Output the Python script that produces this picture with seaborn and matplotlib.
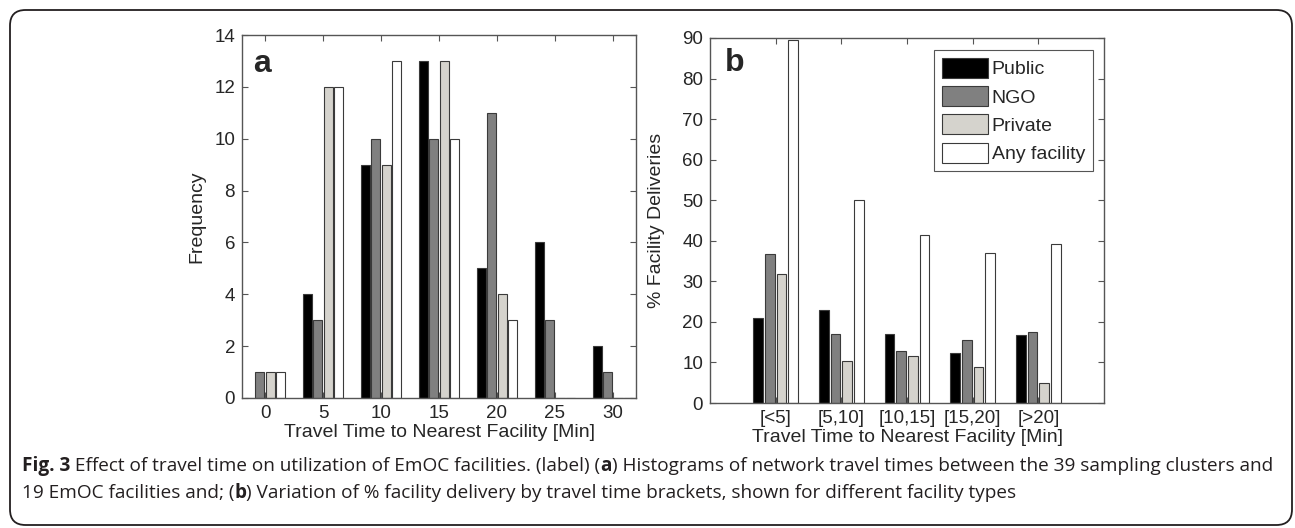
import pandas as pd
import matplotlib.pyplot as plt
import seaborn as sns
from matplotlib.patches import Patch, FancyBboxPatch

# panel a: histogram counts per travel-time bin
bins_a = [0, 5, 10, 15, 20, 25, 30]
public_a = [0, 4, 9, 13, 5, 6, 2]
ngo_a = [1, 3, 10, 10, 11, 3, 1]
private_a = [1, 12, 9, 13, 4, 0, 0]
any_a = [1, 12, 13, 10, 3, 0, 0]

# panel b: % facility deliveries per travel-time bracket
brackets = ["[<5]", "[5,10]", "[10,15]", "[15,20]", "[>20]"]
public_b = [21.0, 22.9, 16.9, 12.4, 16.8]
ngo_b = [36.8, 17.1, 12.9, 15.6, 17.6]
private_b = [31.7, 10.3, 11.7, 9.0, 5.0]
any_b = [89.5, 50.0, 41.4, 37.1, 39.3]

types = ["Public", "NGO", "Private", "Any facility"]
colors = ["#000000", "#808080", "#d5d3cd", "#ffffff"]
edge = "#3a3a3a"

df_a = pd.DataFrame({"time": bins_a, "Public": public_a, "NGO": ngo_a,
                     "Private": private_a, "Any facility": any_a})
df_a = df_a.melt(id_vars="time", var_name="type", value_name="count")
df_b = pd.DataFrame({"bracket": brackets, "Public": public_b, "NGO": ngo_b,
                     "Private": private_b, "Any facility": any_b})
df_b = df_b.melt(id_vars="bracket", var_name="type", value_name="pct")

sns.set_style("ticks")
plt.rcParams["font.family"] = ["Liberation Sans", "DejaVu Sans"]

W, H = 1295, 528
fig = plt.figure(figsize=(W / 100, H / 100), dpi=100)


def box(l, r, t, b):
    return [l / W, (H - b) / H, (r - l) / W, (b - t) / H]


ax_a = fig.add_axes(box(242, 636, 35, 398))
ax_b = fig.add_axes(box(710, 1104, 38, 403))

sns.barplot(data=df_a, x="time", y="count", hue="type", hue_order=types,
            palette=colors, native_scale=True, width=0.724, gap=0.14,
            errorbar=None, saturation=1, edgecolor=edge, linewidth=0.8,
            legend=False, ax=ax_a)
sns.barplot(data=df_b, x="bracket", y="pct", hue="type", hue_order=types,
            order=brackets, palette=colors, width=0.71, gap=0.15,
            errorbar=None, saturation=1, edgecolor=edge, linewidth=0.8,
            legend=False, ax=ax_b)

ax_a.set_xlim(-2, 32)
ax_a.set_ylim(0, 14)
ax_a.set_xticks(bins_a)
ax_a.set_yticks(range(0, 15, 2))
ax_a.set_ylabel("Frequency", fontsize=14)
ax_a.yaxis.set_label_coords(-0.094, 0.5)

ax_b.set_xlim(-1, 5)
ax_b.set_ylim(0, 90)
ax_b.set_yticks(range(0, 91, 10))
ax_b.set_ylabel("% Facility Deliveries", fontsize=14)
ax_b.yaxis.set_label_coords(-0.114, 0.5)

for ax in (ax_a, ax_b):
    ax.set_xlabel("Travel Time to Nearest Facility [Min]", fontsize=14)
    ax.xaxis.set_label_coords(0.5, -0.072)
    ax.tick_params(direction="in", top=True, right=True, length=4,
                   width=0.8, color="#555555", labelsize=13.5, pad=5)
    for s in ax.spines.values():
        s.set_visible(True)
        s.set_color("#555555")
        s.set_linewidth(1.0)

ax_a.text(0.028, 0.898, "a", transform=ax_a.transAxes, fontsize=23,
          fontweight="bold", va="baseline")
ax_b.text(0.038, 0.91, "b", transform=ax_b.transAxes, fontsize=23,
          fontweight="bold", va="baseline")

handles = [Patch(facecolor=c, edgecolor=edge, linewidth=0.8) for c in colors]
leg = ax_b.legend(handles, types, loc="upper right",
                  bbox_to_anchor=(0.972, 0.967), borderaxespad=0,
                  fontsize=14, handlelength=2.35, handleheight=1.2,
                  handletextpad=0.2, labelspacing=0.4, borderpad=0.4,
                  fancybox=False, framealpha=1)
leg.get_frame().set_edgecolor("#555555")
leg.get_frame().set_linewidth(0.8)

# rounded frame around the whole figure
frame = FancyBboxPatch((10 / W, 3 / H), 1282 / W, 515 / H,
                       boxstyle="round,pad=0,rounding_size=0.012",
                       transform=fig.transFigure, fill=False,
                       edgecolor="#231f20", linewidth=1.3,
                       mutation_aspect=W / H)
fig.patches.append(frame)

# caption with bold pieces
cap_lines = [
    [("Fig. 3", "bold"),
     (" Effect of travel time on utilization of EmOC facilities. (label) (", "normal"),
     ("a", "bold"),
     (") Histograms of network travel times between the 39 sampling clusters and", "normal")],
    [("19 EmOC facilities and; (", "normal"), ("b", "bold"),
     (") Variation of % facility delivery by travel time brackets, shown for different facility types", "normal")],
]
cap_y = [471, 498]
renderer = fig.canvas.get_renderer()
for line, yb in zip(cap_lines, cap_y):
    x = 22
    for txt, wt in line:
        t = fig.text(x / W, (H - yb) / H, txt, fontsize=13.7, fontweight=wt,
                     family=["Open Sans", "DejaVu Sans"], color="#231f20",
                     va="baseline", ha="left")
        bb = t.get_window_extent(renderer)
        x += bb.width

fig.savefig("out.png", dpi=100)
